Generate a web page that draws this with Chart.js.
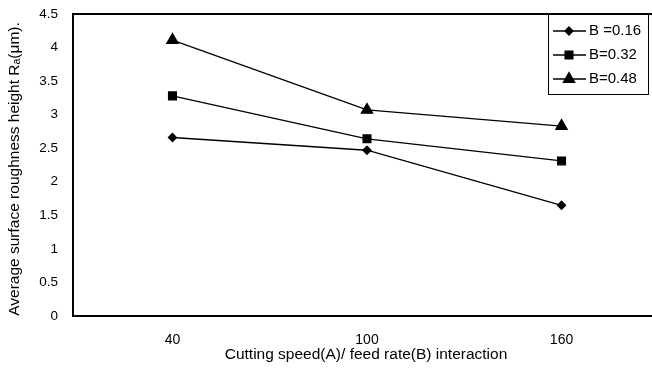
<!DOCTYPE html>
<html lang="en">
<head>
<meta charset="UTF-8">
<title>Roughness interaction</title>
<script src="https://cdn.jsdelivr.net/npm/chart.js"></script>
<style>
  html, body { margin: 0; padding: 0; background: #fff; }
  #wrap { width: 652px; height: 374px; position: relative; }
</style>
</head>
<body>
<div id="wrap"><canvas id="chart"></canvas></div>
<script>
// cutting speed categories
const speeds = [40, 100, 160];
// feed rate series
const seriesNames = ['B =0.16', 'B=0.32', 'B=0.48'];
const b016 = [2.66, 2.47, 1.65];
const b032 = [3.28, 2.64, 2.31];
const b048 = [4.11, 3.07, 2.83];
const yTicks = [0, 0.5, 1, 1.5, 2, 2.5, 3, 3.5, 4, 4.5];

const xTitle = 'Cutting speed(A)/ feed rate(B) interaction';
const yTitle = 'Average surface roughness height R\u2090(\u03bcm).';

const markers = ['rectRot', 'rect', 'triangle'];
const markerSize = [4, 5.5, 6.5];
const allValues = [b016, b032, b048];
const FONT = '"Liberation Sans", Arial, sans-serif';

function toPoints(vals) {
  return speeds.map((s, i) => ({ x: s, y: vals[i] }));
}

// frame (top, left, bottom) plus the two axis titles
const frame = {
  id: 'frame',
  afterDraw(chart) {
    const { ctx, chartArea: a } = chart;
    ctx.save();
    ctx.strokeStyle = '#000';
    ctx.lineWidth = 2;
    ctx.beginPath();
    ctx.moveTo(chart.width, a.top);
    ctx.lineTo(a.left, a.top);
    ctx.lineTo(a.left, a.bottom);
    ctx.lineTo(chart.width, a.bottom);
    ctx.stroke();

    ctx.fillStyle = '#000';
    ctx.font = '15.5px ' + FONT;
    ctx.textAlign = 'center';
    ctx.textBaseline = 'middle';
    ctx.fillText(xTitle, 366, 355);

    ctx.translate(15, 169);
    ctx.rotate(-Math.PI / 2);
    ctx.fillText(yTitle, 0, 0);
    ctx.restore();
  }
};

// boxed legend in the top right corner
const boxLegend = {
  id: 'boxLegend',
  afterDraw(chart) {
    const ctx = chart.ctx;
    const x0 = 548, y0 = 14, w = 100, h = 80;
    ctx.save();
    ctx.fillStyle = '#fff';
    ctx.fillRect(x0, y0, w, h);
    ctx.strokeStyle = '#000';
    ctx.lineWidth = 1;
    ctx.strokeRect(x0 + 0.5, y0 + 0.5, w, h);
    chart.data.datasets.forEach((ds, i) => {
      const y = 31 + i * 24;
      ctx.beginPath();
      ctx.lineWidth = 1.3;
      ctx.moveTo(553, y);
      ctx.lineTo(586, y);
      ctx.stroke();
      ctx.fillStyle = '#000';
      Chart.helpers.drawPoint(ctx, {
        pointStyle: ds.pointStyle,
        radius: ds.pointRadius,
        borderWidth: 1
      }, 569, y);
      ctx.fillStyle = '#000';
      ctx.font = '15px ' + FONT;
      ctx.textAlign = 'left';
      ctx.textBaseline = 'middle';
      ctx.fillText(ds.label, 589, y);
    });
    ctx.restore();
  }
};

new Chart(document.getElementById('chart'), {
  type: 'line',
  data: {
    datasets: seriesNames.map((name, i) => ({
      label: name,
      data: toPoints(allValues[i]),
      borderColor: '#000',
      backgroundColor: '#000',
      borderWidth: 1.3,
      pointStyle: markers[i],
      pointRadius: markerSize[i],
      pointHoverRadius: markerSize[i],
      pointBackgroundColor: '#000',
      pointBorderColor: '#000',
      tension: 0
    }))
  },
  options: {
    responsive: true,
    maintainAspectRatio: false,
    animation: false,
    layout: { padding: { top: 14, right: 0, left: 0, bottom: 0 } },
    plugins: {
      legend: { display: false },
      tooltip: { enabled: false }
    },
    scales: {
      x: {
        type: 'linear',
        min: 9.32,
        max: 185.5,
        afterBuildTicks: s => { s.ticks = speeds.map(v => ({ value: v })); },
        afterFit: s => { s.height = 58; s.paddingLeft = 0; s.paddingRight = 0; },
        grid: { display: false, drawTicks: false },
        border: { display: false },
        ticks: {
          color: '#000',
          padding: 16,
          font: { family: FONT, size: 14 }
        }
      },
      y: {
        min: 0,
        max: 4.5,
        afterBuildTicks: s => { s.ticks = yTicks.map(v => ({ value: v })); },
        afterFit: s => { s.width = 73; s.paddingTop = 0; s.paddingBottom = 0; },
        grid: { display: false, drawTicks: false },
        border: { display: false },
        ticks: {
          color: '#000',
          padding: 15,
          font: { family: FONT, size: 13.5 },
          callback: v => String(v)
        }
      }
    }
  },
  plugins: [frame, boxLegend]
});
</script>
</body>
</html>
